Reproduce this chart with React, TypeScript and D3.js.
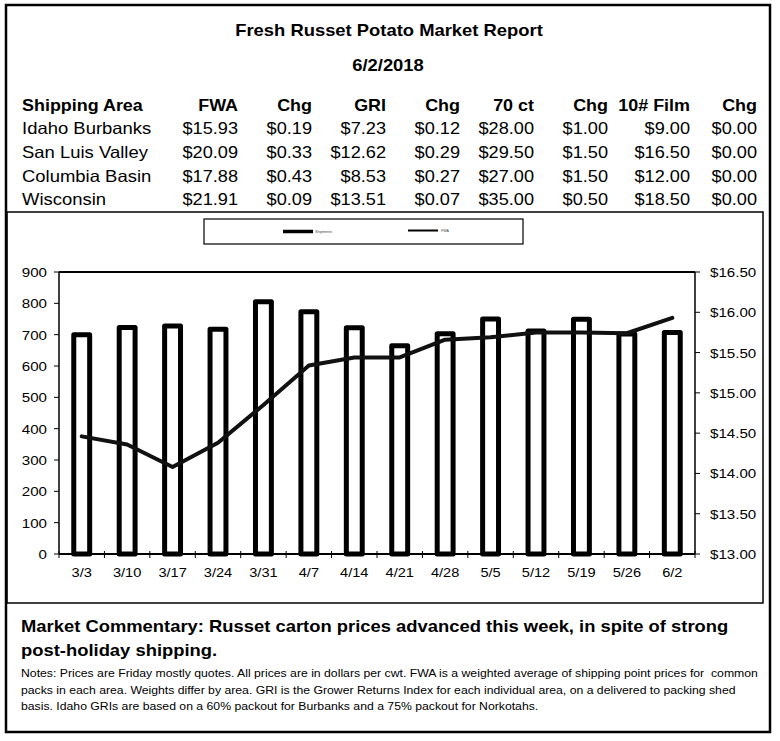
import React from "react";
import * as d3 from "d3";

const weeks = ["3/3", "3/10", "3/17", "3/24", "3/31", "4/7", "4/14", "4/21", "4/28", "5/5", "5/12", "5/19", "5/26", "6/2"];
const shipments = [700, 723, 728, 717, 805, 773, 722, 665, 703, 750, 712, 749, 702, 707];
const fwaIdaho = [14.46, 14.36, 14.08, 14.38, 14.85, 15.34, 15.44, 15.44, 15.66, 15.69, 15.75, 15.75, 15.74, 15.93];
const leftTicks = [0, 100, 200, 300, 400, 500, 600, 700, 800, 900];
const rightTicks = [13, 13.5, 14, 14.5, 15, 15.5, 16, 16.5];
const legendLabels = ["Shipments", "FWA"];

const tableHeaders = ["Shipping Area", "FWA", "Chg", "GRI", "Chg", "70 ct", "Chg", "10# Film", "Chg"];
const areas = ["Idaho Burbanks", "San Luis Valley", "Columbia Basin", "Wisconsin"];
const fwaValues = [15.93, 20.09, 17.88, 21.91];
const fwaChg = [0.19, 0.33, 0.43, 0.09];
const griValues = [7.23, 12.62, 8.53, 13.51];
const griChg = [0.12, 0.29, 0.27, 0.07];
const ct70Values = [28.0, 29.5, 27.0, 35.0];
const ct70Chg = [1.0, 1.5, 1.5, 0.5];
const film10Values = [9.0, 16.5, 12.0, 18.5];
const film10Chg = [0.0, 0.0, 0.0, 0.0];

const title = "Fresh Russet Potato Market Report";
const reportDate = "6/2/2018";
const commentary = [
  "Market Commentary: Russet carton prices advanced this week, in spite of strong",
  "post-holiday shipping.",
];
const notes = [
  "Notes: Prices are Friday mostly quotes. All prices are in dollars per cwt. FWA is a weighted average of shipping point prices for  common",
  "packs in each area. Weights differ by area. GRI is the Grower Returns Index for each individual area, on a delivered to packing shed",
  "basis. Idaho GRIs are based on a 60% packout for Burbanks and a 75% packout for Norkotahs.",
];

const FONT = "'Liberation Sans', Arial, sans-serif";
const money = d3.format("$.2f");

function T({ x, y, size, weight = "normal", anchor = "start", sx = 1.1, fill = "#000", children }: any) {
  return (
    <text
      transform={`translate(${x},${y}) scale(${sx},1)`}
      fontFamily={FONT}
      fontSize={size}
      fontWeight={weight}
      textAnchor={anchor}
      fill={fill}
      style={{ whiteSpace: "pre" }}
    >
      {children}
    </text>
  );
}

export default function App() {
  const W = 780;
  const H = 741;
  const plot = { left: 59, right: 695, top: 272, bottom: 554 };

  const x = d3.scaleBand<string>().domain(weeks).range([plot.left, plot.right]).padding(0);
  const yL = d3.scaleLinear().domain([0, 900]).range([plot.bottom, plot.top]);
  const yR = d3.scaleLinear().domain([13, 16.5]).range([plot.bottom, plot.top]);
  const bw = x.bandwidth() * 0.35;

  const line = d3
    .line<number>()
    .x((_, i) => (x(weeks[i]) as number) + x.bandwidth() / 2)
    .y((d) => yR(d));

  const colRight = [0, 238, 312, 386, 460, 534, 608, 690, 757];
  const rowsY = [134, 158, 182, 205];
  const columns = [fwaValues, fwaChg, griValues, griChg, ct70Values, ct70Chg, film10Values, film10Chg];

  const boundaries = weeks.map((w) => x(w) as number).concat([plot.right]);

  return (
    <div style={{ position: "absolute", left: 0, top: 0 }}>
      <svg width={W} height={H} style={{ display: "block", background: "#fff" }}>
        <rect x={0} y={0} width={W} height={H} fill="#fff" />
        {/* outer frame */}
        <rect x={6} y={5} width={764} height={727} fill="none" stroke="#000" strokeWidth={2.5} />
        {/* chart box */}
        <rect x={7} y={212} width={756} height={391} fill="none" stroke="#000" strokeWidth={1.5} />

        {/* title */}
        <T x={389} y={36} size={16} weight="bold" anchor="middle" sx={1.15}>{title}</T>
        <T x={388} y={71} size={16} weight="bold" anchor="middle" sx={1.15}>{reportDate}</T>

        {/* table */}
        {tableHeaders.map((h, i) => (
          <T key={"h" + i} x={i === 0 ? 22 : colRight[i]} y={111} size={16.3} weight="bold" anchor={i === 0 ? "start" : "end"} sx={1.1}>
            {h}
          </T>
        ))}
        {areas.map((a, r) => (
          <g key={"r" + r}>
            <T x={22} y={rowsY[r]} size={16.5} sx={1.12}>{a}</T>
            {columns.map((col, c) => (
              <T key={c} x={colRight[c + 1]} y={rowsY[r]} size={16.5} anchor="end" sx={1.1}>
                {money(col[r])}
              </T>
            ))}
          </g>
        ))}

        {/* legend */}
        <rect x={204} y={219} width={319} height={25} fill="#fff" stroke="#000" strokeWidth={1.2} />
        <line x1={283} x2={313} y1={231.5} y2={231.5} stroke="#000" strokeWidth={3.5} />
        <T x={315} y={233} size={3.6} fill="#444" sx={1}>{legendLabels[0]}</T>
        <line x1={408} x2={438} y1={230.5} y2={230.5} stroke="#000" strokeWidth={2} />
        <T x={441} y={232} size={3.6} fill="#444" sx={1}>{legendLabels[1]}</T>

        {/* plot frame */}
        <line x1={plot.left} x2={plot.right} y1={plot.top} y2={plot.top} stroke="#000" strokeWidth={2} />
        <line x1={plot.left} x2={plot.left} y1={plot.top} y2={plot.bottom} stroke="#000" strokeWidth={1.5} />
        <line x1={plot.right} x2={plot.right} y1={plot.top} y2={plot.bottom} stroke="#000" strokeWidth={1.5} />

        {/* left axis */}
        {leftTicks.map((t) => (
          <g key={"l" + t}>
            <line x1={plot.left - 5} x2={plot.left} y1={yL(t)} y2={yL(t)} stroke="#000" strokeWidth={1} />
            <T x={47} y={yL(t) + 5} size={13.5} anchor="end" sx={1.12}>{String(t)}</T>
          </g>
        ))}
        {/* right axis */}
        {rightTicks.map((t) => (
          <g key={"rt" + t}>
            <line x1={plot.right} x2={plot.right + 5} y1={yR(t)} y2={yR(t)} stroke="#000" strokeWidth={1} />
            <T x={710} y={yR(t) + 5} size={13.5} anchor="start" sx={1.12}>{money(t)}</T>
          </g>
        ))}

        {/* bars */}
        {shipments.map((v, i) => {
          const cx = (x(weeks[i]) as number) + x.bandwidth() / 2;
          return (
            <rect
              key={"b" + i}
              x={cx - bw / 2}
              y={yL(v)}
              width={bw}
              height={yL(0) - yL(v)}
              fill="#fff"
              stroke="#000"
              strokeWidth={5}
              strokeLinejoin="round"
            />
          );
        })}

        {/* x axis */}
        <line x1={plot.left} x2={plot.right} y1={plot.bottom} y2={plot.bottom} stroke="#000" strokeWidth={2} />
        {boundaries.map((b, i) => (
          <line key={"xt" + i} x1={b} x2={b} y1={plot.bottom - 3} y2={plot.bottom + 4} stroke="#000" strokeWidth={1} />
        ))}
        {weeks.map((w) => (
          <T key={"xl" + w} x={(x(w) as number) + x.bandwidth() / 2} y={577} size={13.5} anchor="middle" sx={1.08}>
            {w}
          </T>
        ))}

        {/* line */}
        <path d={line(fwaIdaho) || ""} fill="none" stroke="#111" strokeWidth={4} strokeLinejoin="round" strokeLinecap="round" />

        {/* commentary */}
        {commentary.map((c, i) => (
          <T key={"c" + i} x={21} y={632 + i * 23.5} size={16.5} weight="bold" sx={1.115}>{c}</T>
        ))}
        {notes.map((n, i) => (
          <T key={"n" + i} x={21} y={677 + i * 16.5} size={11.5} sx={1.065}>{n}</T>
        ))}
      </svg>
    </div>
  );
}
